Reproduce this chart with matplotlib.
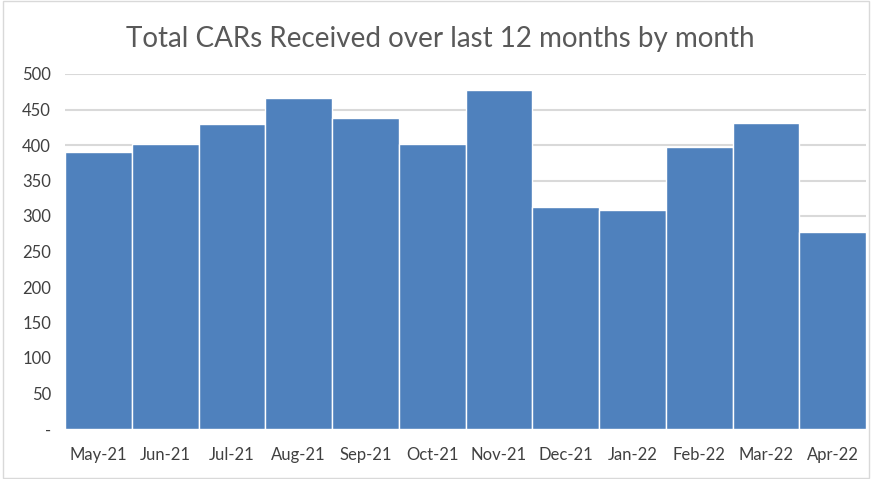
import numpy as np
import matplotlib
matplotlib.use('Agg')
import matplotlib.pyplot as plt
from matplotlib.patches import Rectangle

months = ['May-21', 'Jun-21', 'Jul-21', 'Aug-21', 'Sep-21', 'Oct-21',
          'Nov-21', 'Dec-21', 'Jan-22', 'Feb-22', 'Mar-22', 'Apr-22']
cars = [390, 401, 429, 466, 438, 401, 477, 312, 309, 397, 431, 277]
yticks = [0, 50, 100, 150, 200, 250, 300, 350, 400, 450, 500]
ylabels = ['-', '50', '100', '150', '200', '250', '300', '350', '400', '450', '500']

plt.rcParams['font.family'] = ['Lato', 'DejaVu Sans']

fig = plt.figure(figsize=(8.72, 4.79), dpi=100)
ax = fig.add_axes([65/872, 1-429/479, (866-65)/872, (429-74)/479])

x = np.arange(len(months))
ax.bar(x, cars, width=1.0, color='#4f81bd', edgecolor='white', linewidth=1.0, zorder=3)

ax.set_xlim(-0.5, len(months)-0.5)
ax.set_ylim(0, 500)
ax.set_yticks(yticks)
ax.set_yticklabels(ylabels)
ax.set_xticks(x)
ax.set_xticklabels(months)
ax.tick_params(length=0, labelsize=12, colors='#404040')
ax.tick_params(axis='x', pad=13)
ax.tick_params(axis='y', pad=10)
ax.grid(axis='y', color='#d9d9d9', linewidth=1.5, zorder=0)
for s in ax.spines.values():
    s.set_visible(False)

fig.text(0.505, 0.918, 'Total CARs Received over last 12 months by month',
         ha='center', va='center', fontsize=20, color='#595959')

# light border round the chart area
fig.patches.append(Rectangle((0.003, 0.003), 0.994, 0.994, transform=fig.transFigure,
                             fill=False, edgecolor='#d9d9d9', linewidth=1))

plt.savefig('out.png', dpi=100)
